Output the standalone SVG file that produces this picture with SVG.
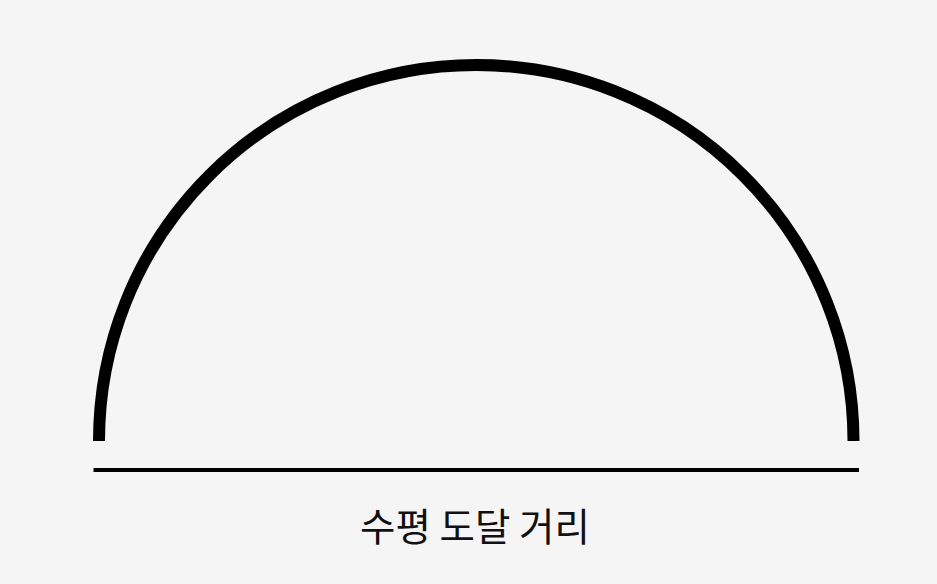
<svg xmlns="http://www.w3.org/2000/svg" width="937" height="584" viewBox="0 0 937 584">
<style>
.arc{fill:none;stroke:#000;stroke-width:12}
.base{stroke:#000;stroke-width:4}
.lbl{font-family:"Noto Sans CJK KR","Noto Sans",sans-serif;font-size:38.5px;fill:#111;text-anchor:middle}
</style>
<rect width="937" height="584" fill="#f5f5f5"/>
<g id="arc">
<path class="arc" d="M99,441 A377.25,376 0 0 1 853.5,441"/>
</g>
<g id="connectors">
<line class="base" x1="93.5" y1="470" x2="859" y2="470"/>
</g>
<g id="label">
<text class="lbl" x="475" y="541">수평 도달 거리</text>
</g>
</svg>
